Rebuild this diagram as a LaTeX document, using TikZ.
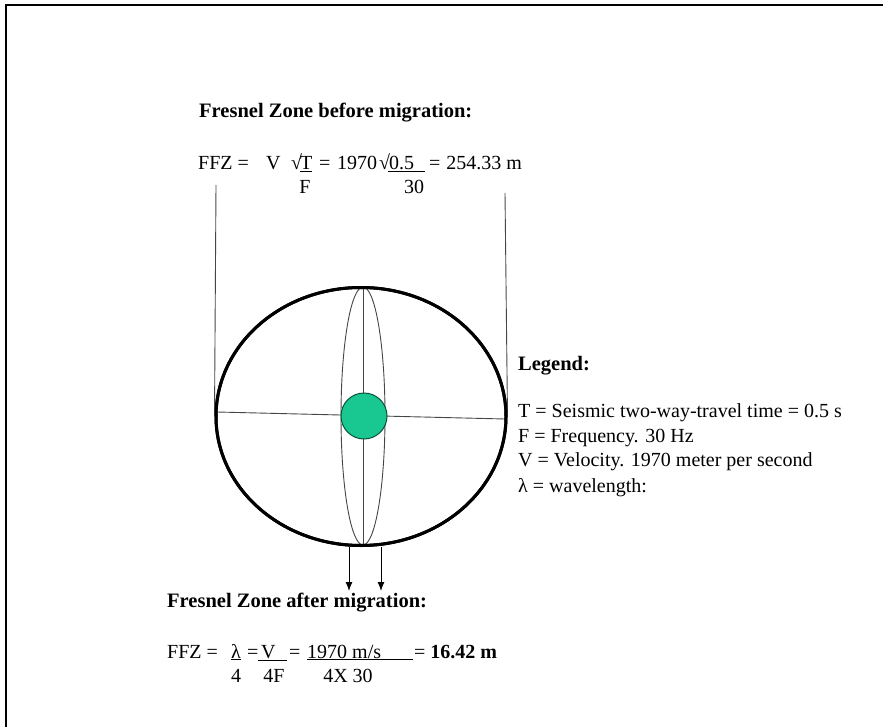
\documentclass[tikz,border=0pt]{standalone}
\usepackage{fontspec}
\setmainfont{Liberation Serif}
\usetikzlibrary{shapes.geometric,arrows.meta}
\definecolor{vertzone}{RGB}{25,200,145}
\definecolor{traitgris}{RGB}{70,70,70}
\begin{document}
\begin{tikzpicture}[x=1pt,y=-1pt]
	% Styles
	\tikzstyle{cadre}=[line width=2.6pt]
	\tikzstyle{fleche}=[-{Latex[length=9pt,width=7pt]},line width=1pt]
	\tikzstyle{trait}=[traitgris,line width=0.9pt]
	\tikzstyle{zone}=[draw,ellipse,line width=3pt,inner sep=0pt,minimum width=290pt,minimum height=258pt]
	\tikzstyle{lentille}=[draw=traitgris,ellipse,line width=0.9pt,inner sep=0pt,minimum width=44pt,minimum height=258pt]
	\tikzstyle{noyau}=[draw=black!60!vertzone,fill=vertzone,circle,line width=1pt,inner sep=0pt,minimum size=46pt]
	\tikzstyle{texte}=[inner sep=0pt,anchor=base west,font=\fontsize{20}{24}\selectfont]
	\tikzstyle{titre}=[inner sep=0pt,anchor=base west,font=\fontsize{20.5}{24}\selectfont\bfseries]
	\tikzstyle{denom}=[inner sep=0pt,anchor=base,font=\fontsize{20}{24}\selectfont]
	% Lignes de base
	\def\LigneA{170}
	\def\DenomA{194}
	\def\LigneB{658}
	\def\DenomB{682}
	\useasboundingbox (0,0) rectangle (883,727);
	\draw[cadre] (6,727) -- (6,5) -- (883,5);
	% Zone avant migration
	\node[titre] (titreA) at (199,118) {Fresnel Zone before migration:};
	\node[texte] (ffzA) at (198,\LigneA) {FFZ =};
	\node[texte] (vA) at (266,\LigneA) {V};
	\node[texte] (racA) at (291,\LigneA) {√};
	\node[texte] (numA) at (300,\LigneA) {\underline{T}};
	\node[texte] (egA) at (319,\LigneA) {=};
	\node[texte] (valA) at (337,\LigneA) {1970};
	\node[texte] (racB) at (379,\LigneA) {√};
	\node[texte] (numB) at (388,\LigneA) {\underline{\makebox[37pt][l]{\hspace{1pt}0.5}}};
	\node[texte] (resA) at (429,\LigneA) {= \hspace{1pt}254.33 m};
	\node[denom] (denA) at (305,\DenomA) {F};
	\node[denom] (denB) at (414,\DenomA) {30};
	% Figure
	\node[lentille] (lentille) at (363,416) {};
	\node[zone] (zone) at (361,416.5) {};
	\coordinate (hautG) at (216,185);
	\coordinate (hautD) at (505,193);
	\coordinate (axeG) at (217,412);
	\coordinate (axeD) at (505,419);
	\draw[trait] (hautG) -- (zone.west);
	\draw[trait] (hautD) -- (zone.east);
	\draw[trait] (axeG) -- (axeD);
	\draw[trait] (lentille.north) -- (lentille.south);
	\node[noyau] (noyau) at (364,416) {};
	\node[zone] at (zone) {};
	\coordinate (departG) at (349,547);
	\coordinate (departD) at (381,547);
	\coordinate (finG) at (349,591);
	\coordinate (finD) at (381,591);
	\draw[fleche] (departG) -- (finG);
	\draw[fleche] (departD) -- (finD);
	% Legende
	\node[titre] (legende) at (518,370) {Legend:};
	\node[texte] (legT) at (518,417) {T = Seismic two-way-travel time = 0.5 s};
	\node[texte] (legF) at (518,442) {F = Frequency. 30 Hz};
	\node[texte] (legV) at (518,466) {V = Velocity. 1970 meter per second};
	\node[texte] (legL) at (518,492) {λ = wavelength:};
	% Zone apres migration
	\node[titre] (titreB) at (167,607) {Fresnel Zone after migration:};
	\node[texte] (ffzB) at (167,\LigneB) {FFZ =};
	\node[texte] (lamB) at (231,\LigneB) {\underline{λ}};
	\node[texte] (egB) at (247,\LigneB) {=};
	\node[texte] (vB) at (258,\LigneB) {\underline{\makebox[29pt][l]{\hspace{3pt}V}}};
	\node[texte] (egC) at (289,\LigneB) {=};
	\node[texte] (fracB) at (307,\LigneB) {\underline{\makebox[106pt][l]{1970 m/s}}};
	\node[texte] (resB) at (414,\LigneB) {= \textbf{16.42 m}};
	\node[denom] (denC) at (236,\DenomB) {4};
	\node[denom] (denD) at (274,\DenomB) {4F};
	\node[denom] (denE) at (348,\DenomB) {4X 30};
\end{tikzpicture}
\end{document}
